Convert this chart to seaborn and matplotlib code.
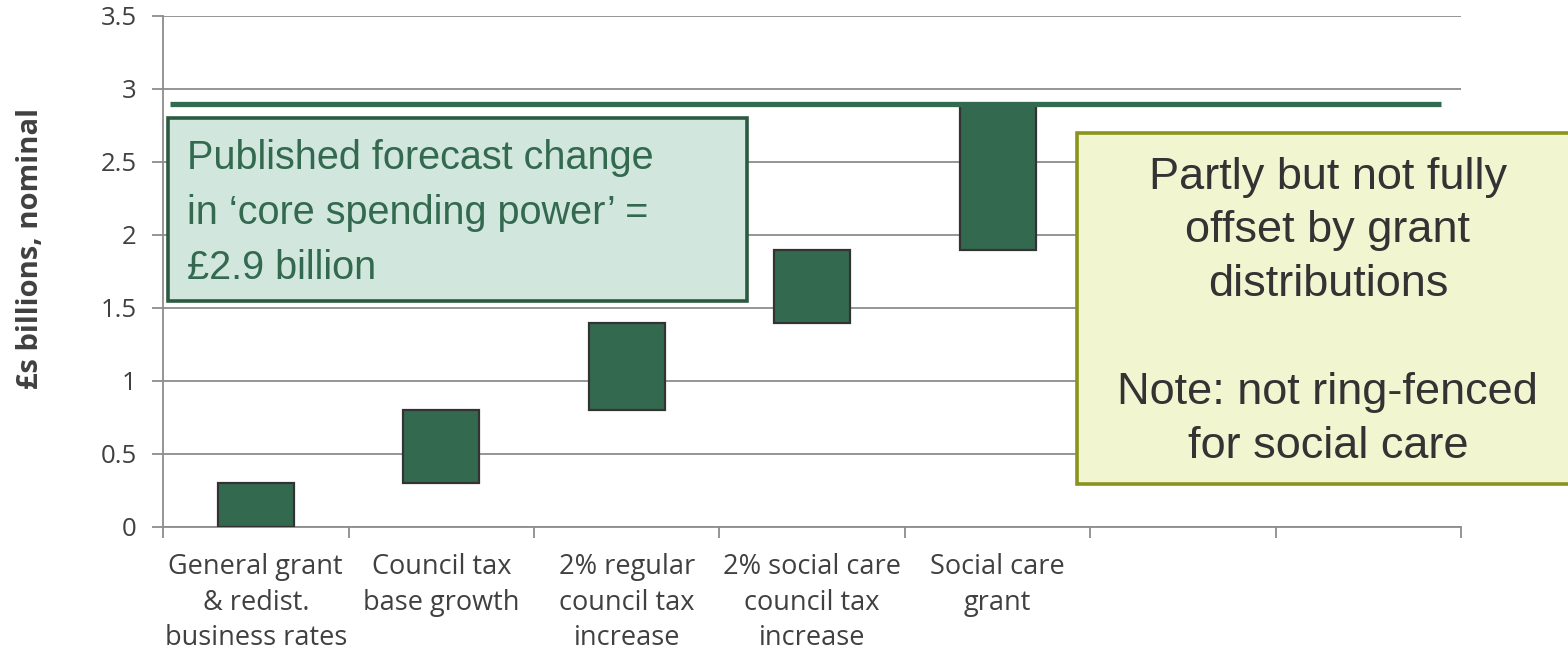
import matplotlib
matplotlib.use("Agg")
import matplotlib.pyplot as plt
from matplotlib.patches import Rectangle
import numpy as np
import pandas as pd
import seaborn as sns

# Components of the change in core spending power (£bn, nominal)
categories = [
    "General grant\n& redist.\nbusiness rates",
    "Council tax\nbase growth",
    "2% regular\ncouncil tax\nincrease",
    "2% social care\ncouncil tax\nincrease",
    "Social care\ngrant",
]
starts = [0.0, 0.3, 0.8, 1.4, 1.9]
ends = [0.3, 0.8, 1.4, 1.9, 2.9]
total_change = 2.9
n_slots = 7
y_ticks = [0, 0.5, 1, 1.5, 2, 2.5, 3, 3.5]
y_tick_labels = ["0", "0.5", "1", "1.5", "2", "2.5", "3", "3.5"]

sns.set_theme(style="white")
plt.rcParams["font.family"] = ["Open Sans", "DejaVu Sans"]

df = pd.DataFrame({
    "component": categories,
    "start": starts,
    "change": np.array(ends) - np.array(starts),
})

fig = plt.figure(figsize=(15.68, 6.51), dpi=100)
ax = fig.add_axes([0.104, 0.1905, 0.828, 0.785])

grid_col = "#8c8c8c"
text_col = "#404040"
bar_col = "#336a4f"

sns.barplot(data=df, x="component", y="change", order=categories,
            bottom=df["start"].to_numpy(), color=bar_col, saturation=1,
            width=0.41, edgecolor="#333333", linewidth=1.6, ax=ax, zorder=3)

ax.set_xlim(-0.5, n_slots - 0.5)
ax.set_ylim(0, 3.5)

# gridlines and spines
ax.set_yticks(y_ticks)
ax.set_yticklabels(y_tick_labels)
ax.yaxis.grid(True, color=grid_col, linewidth=1.3, zorder=0)
ax.xaxis.grid(False)
for side in ["top", "right"]:
    ax.spines[side].set_visible(False)
for side in ["left", "bottom"]:
    ax.spines[side].set_color(grid_col)
    ax.spines[side].set_linewidth(1.3)
ax.set_axisbelow(True)

# category labels centred in their slots, tick marks on slot boundaries
ax.set_xticks(range(len(categories)))
ax.set_xticklabels(categories, fontsize=19.5, color=text_col, linespacing=1.34)
ax.tick_params(axis="x", which="major", length=0, pad=19)
ax.set_xticks(np.arange(-0.5, n_slots, 1.0), minor=True)
ax.tick_params(axis="x", which="minor", length=8, width=1.3, color=grid_col,
               direction="out", bottom=True)
ax.tick_params(axis="y", length=8, width=1.3, color=grid_col, direction="out",
               labelsize=18.5, labelcolor=text_col, pad=11, left=True)

ax.set_xlabel("")
ax.set_ylabel("£s billions, nominal", fontsize=21, fontweight="bold",
              color=text_col)
ax.yaxis.set_label_coords(-0.091, 0.545)

# published total
ax.hlines(total_change, -0.46, 6.39, color=bar_col, linewidth=3.8, zorder=4)

# annotation boxes
box1 = Rectangle((-0.472, 1.55), 3.12, 1.25, facecolor="#d1e7dd",
                 edgecolor="#2c5a40", linewidth=2.6, zorder=5, clip_on=False)
ax.add_patch(box1)
ax.text(-0.37, 2.655,
        "Published forecast change\nin \u2018core spending power\u2019 =\n£2.9 billion",
        ha="left", va="top", fontsize=28.5, color="#336a4f",
        family=["Liberation Sans", "DejaVu Sans"], linespacing=1.56, zorder=6)

box2 = Rectangle((4.425, 0.295), 3.0, 2.405, facecolor="#f2f6d0",
                 edgecolor="#8a931e", linewidth=2.6, zorder=5, clip_on=False)
ax.add_patch(box2)
ax.text(5.78, 1.475,
        "Partly but not fully\noffset by grant\ndistributions\n\nNote: not ring-fenced\nfor social care",
        ha="center", va="center", fontsize=32.5, color="#333333",
        family=["Liberation Sans", "DejaVu Sans"], linespacing=1.40, zorder=6)

fig.savefig("out.png", dpi=100)
